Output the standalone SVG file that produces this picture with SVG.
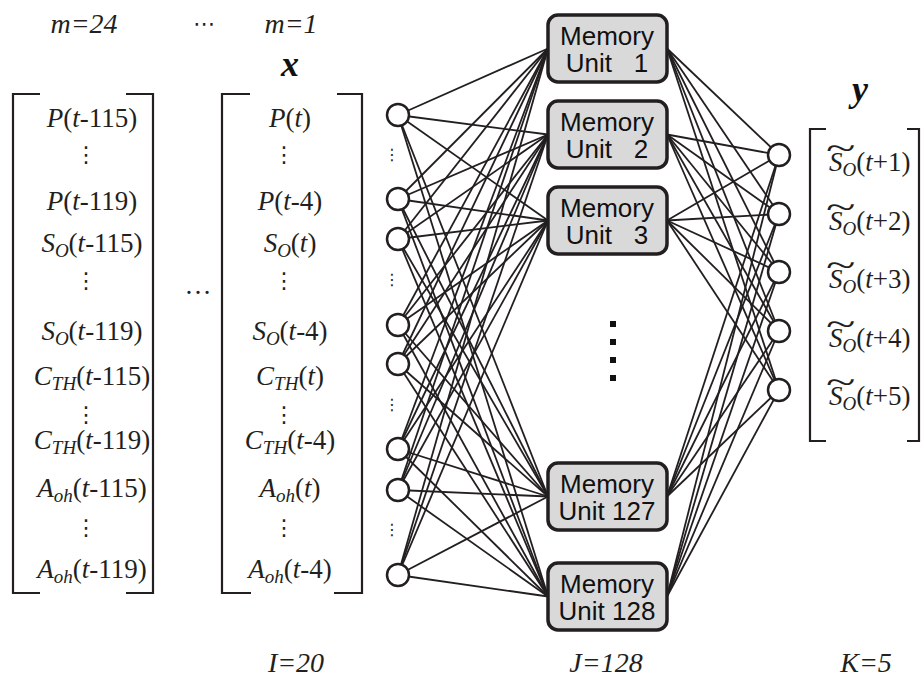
<svg xmlns="http://www.w3.org/2000/svg" width="921" height="680" viewBox="0 0 921 680">
<style>
.ln{stroke:#231f20;stroke-width:1.8;fill:none}
.nd{fill:#fff;stroke:#231f20;stroke-width:2.5}
.box{fill:#d9d9d9;stroke:#231f20;stroke-width:3.5}
.mu{font-family:"Liberation Sans",Arial,sans-serif;font-size:26px;fill:#111;text-anchor:middle;white-space:pre}
.tm{font-family:"Liberation Serif","Times New Roman","DejaVu Serif",serif;font-size:27px;fill:#231f20;text-anchor:middle}
.ts{font-family:"Liberation Serif","Times New Roman","DejaVu Serif",serif;font-size:27px;fill:#231f20}
.hd{font-family:"Liberation Serif","Times New Roman","DejaVu Serif",serif;font-size:28px;font-style:italic;fill:#231f20;text-anchor:middle}
.vec{font-family:"Liberation Serif","Times New Roman","DejaVu Serif",serif;font-size:36px;font-style:italic;font-weight:bold;fill:#111;text-anchor:middle}
.tl{font-family:"Liberation Serif","Times New Roman","DejaVu Serif",serif;font-size:34px;fill:#231f20}
.i{font-style:italic}
.sub{font-size:19px;font-style:italic}
.br{stroke:#231f20;stroke-width:2.2;fill:none}
.vd{font-family:"DejaVu Sans",sans-serif;font-size:22px;fill:#231f20;text-anchor:middle}
.vds{font-family:"DejaVu Sans",sans-serif;font-size:16px;fill:#231f20;text-anchor:middle}
.sq{fill:#111}
</style>

<g id="connectors">
<line class="ln" x1="398" y1="115" x2="548" y2="48.5"/><line class="ln" x1="398" y1="115" x2="548" y2="134.5"/><line class="ln" x1="398" y1="115" x2="548" y2="220.5"/><line class="ln" x1="398" y1="115" x2="548" y2="496.5"/><line class="ln" x1="398" y1="115" x2="548" y2="596.5"/>
<line class="ln" x1="398" y1="199" x2="548" y2="48.5"/><line class="ln" x1="398" y1="199" x2="548" y2="134.5"/><line class="ln" x1="398" y1="199" x2="548" y2="220.5"/><line class="ln" x1="398" y1="199" x2="548" y2="496.5"/><line class="ln" x1="398" y1="199" x2="548" y2="596.5"/>
<line class="ln" x1="398" y1="239" x2="548" y2="48.5"/><line class="ln" x1="398" y1="239" x2="548" y2="134.5"/><line class="ln" x1="398" y1="239" x2="548" y2="220.5"/><line class="ln" x1="398" y1="239" x2="548" y2="496.5"/><line class="ln" x1="398" y1="239" x2="548" y2="596.5"/>
<line class="ln" x1="398" y1="325" x2="548" y2="48.5"/><line class="ln" x1="398" y1="325" x2="548" y2="134.5"/><line class="ln" x1="398" y1="325" x2="548" y2="220.5"/><line class="ln" x1="398" y1="325" x2="548" y2="496.5"/><line class="ln" x1="398" y1="325" x2="548" y2="596.5"/>
<line class="ln" x1="398" y1="364" x2="548" y2="48.5"/><line class="ln" x1="398" y1="364" x2="548" y2="134.5"/><line class="ln" x1="398" y1="364" x2="548" y2="220.5"/><line class="ln" x1="398" y1="364" x2="548" y2="496.5"/><line class="ln" x1="398" y1="364" x2="548" y2="596.5"/>
<line class="ln" x1="398" y1="449" x2="548" y2="48.5"/><line class="ln" x1="398" y1="449" x2="548" y2="134.5"/><line class="ln" x1="398" y1="449" x2="548" y2="220.5"/><line class="ln" x1="398" y1="449" x2="548" y2="496.5"/><line class="ln" x1="398" y1="449" x2="548" y2="596.5"/>
<line class="ln" x1="398" y1="490" x2="548" y2="48.5"/><line class="ln" x1="398" y1="490" x2="548" y2="134.5"/><line class="ln" x1="398" y1="490" x2="548" y2="220.5"/><line class="ln" x1="398" y1="490" x2="548" y2="496.5"/><line class="ln" x1="398" y1="490" x2="548" y2="596.5"/>
<line class="ln" x1="398" y1="575" x2="548" y2="48.5"/><line class="ln" x1="398" y1="575" x2="548" y2="134.5"/><line class="ln" x1="398" y1="575" x2="548" y2="220.5"/><line class="ln" x1="398" y1="575" x2="548" y2="496.5"/><line class="ln" x1="398" y1="575" x2="548" y2="596.5"/>
<line class="ln" x1="667" y1="48.5" x2="779" y2="155"/><line class="ln" x1="667" y1="48.5" x2="779" y2="214"/><line class="ln" x1="667" y1="48.5" x2="779" y2="272"/><line class="ln" x1="667" y1="48.5" x2="779" y2="331"/><line class="ln" x1="667" y1="48.5" x2="779" y2="390"/>
<line class="ln" x1="667" y1="134.5" x2="779" y2="155"/><line class="ln" x1="667" y1="134.5" x2="779" y2="214"/><line class="ln" x1="667" y1="134.5" x2="779" y2="272"/><line class="ln" x1="667" y1="134.5" x2="779" y2="331"/><line class="ln" x1="667" y1="134.5" x2="779" y2="390"/>
<line class="ln" x1="667" y1="220.5" x2="779" y2="155"/><line class="ln" x1="667" y1="220.5" x2="779" y2="214"/><line class="ln" x1="667" y1="220.5" x2="779" y2="272"/><line class="ln" x1="667" y1="220.5" x2="779" y2="331"/><line class="ln" x1="667" y1="220.5" x2="779" y2="390"/>
<line class="ln" x1="667" y1="496.5" x2="779" y2="155"/><line class="ln" x1="667" y1="496.5" x2="779" y2="214"/><line class="ln" x1="667" y1="496.5" x2="779" y2="272"/><line class="ln" x1="667" y1="496.5" x2="779" y2="331"/><line class="ln" x1="667" y1="496.5" x2="779" y2="390"/>
<line class="ln" x1="667" y1="596.5" x2="779" y2="155"/><line class="ln" x1="667" y1="596.5" x2="779" y2="214"/><line class="ln" x1="667" y1="596.5" x2="779" y2="272"/><line class="ln" x1="667" y1="596.5" x2="779" y2="331"/><line class="ln" x1="667" y1="596.5" x2="779" y2="390"/>
</g>

<g id="input-nodes">
<circle class="nd" cx="398" cy="115" r="11"/>
<circle class="nd" cx="398" cy="199" r="11"/>
<circle class="nd" cx="398" cy="239" r="11"/>
<circle class="nd" cx="398" cy="325" r="11"/>
<circle class="nd" cx="398" cy="364" r="11"/>
<circle class="nd" cx="398" cy="449" r="11"/>
<circle class="nd" cx="398" cy="490" r="11"/>
<circle class="nd" cx="398" cy="575" r="11"/>
<text class="vds" x="392" y="160">⋮</text>
<text class="vds" x="392" y="285">⋮</text>
<text class="vds" x="392" y="410">⋮</text>
<text class="vds" x="392" y="535">⋮</text>
</g>

<g id="memory-unit-1"><rect class="box" x="548" y="15" width="119" height="67" rx="10"/><text class="mu" x="607" y="45">Memory</text><text class="mu" x="607" y="72">Unit   1</text></g>
<g id="memory-unit-2"><rect class="box" x="548" y="101" width="119" height="67" rx="10"/><text class="mu" x="607" y="131">Memory</text><text class="mu" x="607" y="158">Unit   2</text></g>
<g id="memory-unit-3"><rect class="box" x="548" y="187" width="119" height="67" rx="10"/><text class="mu" x="607" y="217">Memory</text><text class="mu" x="607" y="244">Unit   3</text></g>
<g id="memory-ellipsis"><rect class="sq" x="610" y="321" width="6" height="6"/><rect class="sq" x="610" y="339" width="6" height="6"/><rect class="sq" x="610" y="357" width="6" height="6"/><rect class="sq" x="610" y="375" width="6" height="6"/></g>
<g id="memory-unit-127"><rect class="box" x="548" y="463" width="119" height="67" rx="10"/><text class="mu" x="607" y="493">Memory</text><text class="mu" x="607" y="520">Unit 127</text></g>
<g id="memory-unit-128"><rect class="box" x="548" y="563" width="119" height="67" rx="10"/><text class="mu" x="607" y="593">Memory</text><text class="mu" x="607" y="620">Unit 128</text></g>

<g id="output-nodes">
<circle class="nd" cx="779" cy="155" r="11"/>
<circle class="nd" cx="779" cy="214" r="11"/>
<circle class="nd" cx="779" cy="272" r="11"/>
<circle class="nd" cx="779" cy="331" r="11"/>
<circle class="nd" cx="779" cy="390" r="11"/>
</g>

<g id="headers">
<text class="hd" x="84" y="33">m=24</text>
<text class="vd" x="204" y="31">⋯</text>
<text class="hd" x="291" y="33">m=1</text>
<text class="vec" x="290" y="76">x</text>
<text class="vec" x="860" y="101">y</text>
<text class="tm" x="198" y="294">…</text>
<text class="hd" x="296" y="672">I=20</text>
<text class="hd" x="606" y="672">J=128</text>
<text class="hd" x="866" y="672">K=5</text>
</g>

<g id="matrix-m24">
<path class="br" d="M40,94 H13 V593 H40 M126,94 H153 V593 H126"/>
<text class="tm" x="92" y="127"><tspan class="i">P</tspan>(<tspan class="i">t</tspan>-115)</text>
<text class="vd" x="86" y="162">⋮</text>
<text class="tm" x="92" y="210"><tspan class="i">P</tspan>(<tspan class="i">t</tspan>-119)</text>
<text class="tm" x="92" y="252"><tspan class="i">S</tspan><tspan class="sub" dy="5">O</tspan><tspan dy="-5">(</tspan><tspan class="i">t</tspan>-115)</text>
<text class="vd" x="86" y="288">⋮</text>
<text class="tm" x="92" y="340"><tspan class="i">S</tspan><tspan class="sub" dy="5">O</tspan><tspan dy="-5">(</tspan><tspan class="i">t</tspan>-119)</text>
<text class="tm" x="92" y="385"><tspan class="i">C</tspan><tspan class="sub" dy="5">TH</tspan><tspan dy="-5">(</tspan><tspan class="i">t</tspan>-115)</text>
<text class="vd" x="86" y="422">⋮</text>
<text class="tm" x="92" y="449"><tspan class="i">C</tspan><tspan class="sub" dy="5">TH</tspan><tspan dy="-5">(</tspan><tspan class="i">t</tspan>-119)</text>
<text class="tm" x="92" y="497"><tspan class="i">A</tspan><tspan class="sub" dy="5">oh</tspan><tspan dy="-5">(</tspan><tspan class="i">t</tspan>-115)</text>
<text class="vd" x="86" y="535">⋮</text>
<text class="tm" x="92" y="578"><tspan class="i">A</tspan><tspan class="sub" dy="5">oh</tspan><tspan dy="-5">(</tspan><tspan class="i">t</tspan>-119)</text>
</g>

<g id="matrix-m1">
<path class="br" d="M250,94 H222 V593 H251 M337,94 H362 V593 H334"/>
<text class="tm" x="290" y="127"><tspan class="i">P</tspan>(<tspan class="i">t</tspan>)</text>
<text class="vd" x="284" y="162">⋮</text>
<text class="tm" x="290" y="210"><tspan class="i">P</tspan>(<tspan class="i">t</tspan>-4)</text>
<text class="tm" x="290" y="252"><tspan class="i">S</tspan><tspan class="sub" dy="5">O</tspan><tspan dy="-5">(</tspan><tspan class="i">t</tspan>)</text>
<text class="vd" x="284" y="288">⋮</text>
<text class="tm" x="290" y="340"><tspan class="i">S</tspan><tspan class="sub" dy="5">O</tspan><tspan dy="-5">(</tspan><tspan class="i">t</tspan>-4)</text>
<text class="tm" x="290" y="385"><tspan class="i">C</tspan><tspan class="sub" dy="5">TH</tspan><tspan dy="-5">(</tspan><tspan class="i">t</tspan>)</text>
<text class="vd" x="284" y="422">⋮</text>
<text class="tm" x="290" y="449"><tspan class="i">C</tspan><tspan class="sub" dy="5">TH</tspan><tspan dy="-5">(</tspan><tspan class="i">t</tspan>-4)</text>
<text class="tm" x="290" y="497"><tspan class="i">A</tspan><tspan class="sub" dy="5">oh</tspan><tspan dy="-5">(</tspan><tspan class="i">t</tspan>)</text>
<text class="vd" x="284" y="535">⋮</text>
<text class="tm" x="290" y="578"><tspan class="i">A</tspan><tspan class="sub" dy="5">oh</tspan><tspan dy="-5">(</tspan><tspan class="i">t</tspan>-4)</text>
</g>

<g id="output-vector">
<path class="br" d="M826,129 H810 V441 H826 M907,129 H919 V441 H907"/>
<text class="ts" x="829" y="171"><tspan class="i">S</tspan><tspan class="sub" dy="5">O</tspan><tspan dy="-5">(</tspan><tspan class="i">t</tspan>+1)</text>
<text class="ts" x="829" y="230"><tspan class="i">S</tspan><tspan class="sub" dy="5">O</tspan><tspan dy="-5">(</tspan><tspan class="i">t</tspan>+2)</text>
<text class="ts" x="829" y="288"><tspan class="i">S</tspan><tspan class="sub" dy="5">O</tspan><tspan dy="-5">(</tspan><tspan class="i">t</tspan>+3)</text>
<text class="ts" x="829" y="347"><tspan class="i">S</tspan><tspan class="sub" dy="5">O</tspan><tspan dy="-5">(</tspan><tspan class="i">t</tspan>+4)</text>
<text class="ts" x="829" y="405"><tspan class="i">S</tspan><tspan class="sub" dy="5">O</tspan><tspan dy="-5">(</tspan><tspan class="i">t</tspan>+5)</text>
<text class="tl" transform="translate(826,159) scale(1.6,1)">~</text>
<text class="tl" transform="translate(826,218) scale(1.6,1)">~</text>
<text class="tl" transform="translate(826,276) scale(1.6,1)">~</text>
<text class="tl" transform="translate(826,335) scale(1.6,1)">~</text>
<text class="tl" transform="translate(826,393) scale(1.6,1)">~</text>
</g>
</svg>
